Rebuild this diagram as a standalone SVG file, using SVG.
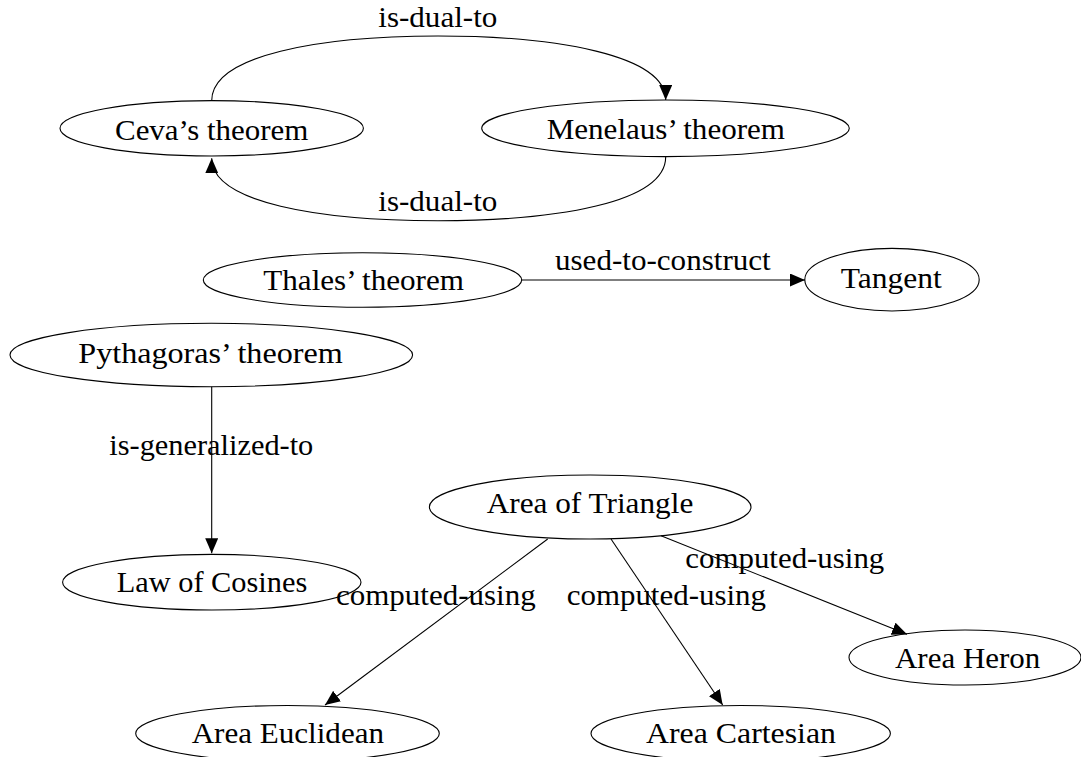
<svg xmlns="http://www.w3.org/2000/svg" width="1081" height="757" viewBox="0 0 1081 757" font-family="'Liberation Serif', 'Times New Roman', serif">
<style>
.n{fill:none;stroke:#000;stroke-width:1.1}
.e{fill:none;stroke:#000;stroke-width:1.1;marker-end:url(#ah)}
text{font-family:'Liberation Serif','Times New Roman',serif;font-size:30px;fill:#000}
</style>
<defs>
<marker id="ah" viewBox="0 0 15 13" refX="15" refY="6.5" markerWidth="15" markerHeight="13" markerUnits="userSpaceOnUse" orient="auto">
<path d="M0,0 L15,6.5 L0,13 z" fill="#000"/>
</marker>
</defs>
<rect width="1081" height="757" fill="#fff"/>
<g id="connectors">
<path class="e" d="M211.7,100.7 C211.7,55 320,36 438,36 C556,36 665.7,55 665.7,100"/>
<path class="e" d="M665.7,156.7 C665.7,203 556,220.7 438,220.7 C320,220.7 211.7,203 211.7,158.3"/>
<path class="e" d="M521.7,280 L805,280"/>
<path class="e" d="M211.7,386.7 L211.7,553.3"/>
<path class="e" d="M547.7,539 L325,705"/>
<path class="e" d="M611,539 L722.7,705"/>
<path class="e" d="M661,535.7 L907,634.3"/>
<text x="378.3" y="26.7" textLength="119" lengthAdjust="spacingAndGlyphs">is-dual-to</text>
<text x="378.3" y="210.7" textLength="119" lengthAdjust="spacingAndGlyphs">is-dual-to</text>
<text x="555" y="270" textLength="215.7" lengthAdjust="spacingAndGlyphs">used-to-construct</text>
<text x="109.3" y="455" textLength="204" lengthAdjust="spacingAndGlyphs">is-generalized-to</text>
<text x="336" y="605" textLength="199.7" lengthAdjust="spacingAndGlyphs">computed-using</text>
<text x="566.7" y="605" textLength="199.3" lengthAdjust="spacingAndGlyphs">computed-using</text>
<text x="685.3" y="568.3" textLength="199" lengthAdjust="spacingAndGlyphs">computed-using</text>
</g>
<g id="ceva"><ellipse class="n" cx="211.7" cy="128.3" rx="151.7" ry="27.7"/><text x="115" y="139.5" textLength="193.3" lengthAdjust="spacingAndGlyphs">Ceva’s theorem</text></g>
<g id="menelaus"><ellipse class="n" cx="665.5" cy="128.3" rx="183.8" ry="28.3"/><text x="546.7" y="138.5" textLength="238.3" lengthAdjust="spacingAndGlyphs">Menelaus’ theorem</text></g>
<g id="thales"><ellipse class="n" cx="362.5" cy="280" rx="159.2" ry="27.3"/><text x="263.3" y="290" textLength="200.7" lengthAdjust="spacingAndGlyphs">Thales’ theorem</text></g>
<g id="tangent"><ellipse class="n" cx="892" cy="279.7" rx="87.2" ry="31.3"/><text x="840.7" y="287.7" textLength="101" lengthAdjust="spacingAndGlyphs">Tangent</text></g>
<g id="pythagoras"><ellipse class="n" cx="211.3" cy="355" rx="201.3" ry="31.7"/><text x="78.3" y="363.3" textLength="264.4" lengthAdjust="spacingAndGlyphs">Pythagoras’ theorem</text></g>
<g id="law-of-cosines"><ellipse class="n" cx="211.8" cy="582.2" rx="149.2" ry="27.8"/><text x="116.7" y="592.3" textLength="190.6" lengthAdjust="spacingAndGlyphs">Law of Cosines</text></g>
<g id="area-of-triangle"><ellipse class="n" cx="590.2" cy="507" rx="160.8" ry="32"/><text x="486.7" y="513.3" textLength="206.6" lengthAdjust="spacingAndGlyphs">Area of Triangle</text></g>
<g id="area-heron"><ellipse class="n" cx="965" cy="657.5" rx="116" ry="27.5"/><text x="895" y="667.7" textLength="145.3" lengthAdjust="spacingAndGlyphs">Area Heron</text></g>
<g id="area-euclidean"><ellipse class="n" cx="287.5" cy="733.5" rx="151.8" ry="28"/><text x="191.7" y="743.3" textLength="192.3" lengthAdjust="spacingAndGlyphs">Area Euclidean</text></g>
<g id="area-cartesian"><ellipse class="n" cx="740.7" cy="733.5" rx="149.7" ry="28"/><text x="646" y="743.3" textLength="190" lengthAdjust="spacingAndGlyphs">Area Cartesian</text></g>
</svg>
